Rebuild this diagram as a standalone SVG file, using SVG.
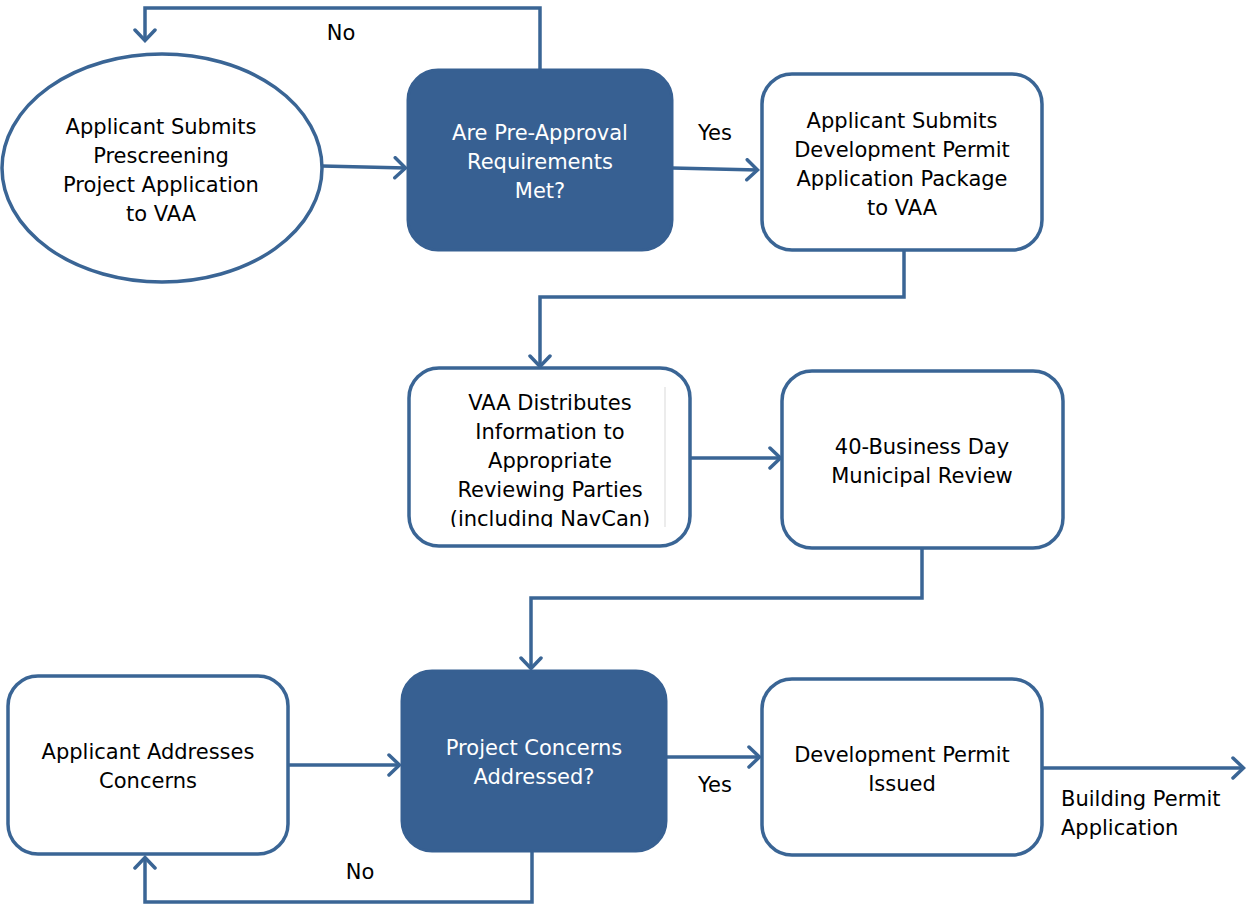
<svg xmlns="http://www.w3.org/2000/svg" width="1246" height="905" viewBox="0 0 1246 905">
  <style>
    .box { fill: #ffffff; stroke: #3a6595; stroke-width: 3.5; }
    .dec { fill: #376092; stroke: #376092; stroke-width: 3; }
    .lbl { font-family: "DejaVu Sans", Verdana, sans-serif; font-size: 21px; fill: #000000; text-anchor: middle; }
    .lbl-w { font-family: "DejaVu Sans", Verdana, sans-serif; font-size: 21px; fill: #ffffff; text-anchor: middle; }
    .start { text-anchor: start; }
    .edge { fill: none; stroke: #3a6595; stroke-width: 3.5; stroke-linejoin: miter; }
  </style>
  <defs>
    <!-- open chevron head used by every connector -->
    <marker id="arrow" viewBox="0 0 16 24" refX="14" refY="12" markerWidth="16" markerHeight="24" markerUnits="userSpaceOnUse" orient="auto">
      <path d="M3,2 L13.5,12 L3,22" fill="none" stroke="#3a6595" stroke-width="3.5" stroke-linecap="round" stroke-linejoin="miter"/>
    </marker>
    <clipPath id="vaa-clip">
      <rect x="434" y="386" width="232" height="141"/>
    </clipPath>
  </defs>
  <rect width="1246" height="905" fill="#ffffff"/>

  <!-- connectors -->
  <g id="connectors">
    <path class="edge" d="M540,70 V8 H145 V41" marker-end="url(#arrow)"/>
    <path class="edge" d="M322,166 L406,168" marker-end="url(#arrow)"/>
    <path class="edge" d="M672,168 L758,170" marker-end="url(#arrow)"/>
    <path class="edge" d="M904,250 V297 H540 V367" marker-end="url(#arrow)"/>
    <path class="edge" d="M690,458 H781" marker-end="url(#arrow)"/>
    <path class="edge" d="M922,548 V598 H531 V669" marker-end="url(#arrow)"/>
    <path class="edge" d="M288,765 H400" marker-end="url(#arrow)"/>
    <path class="edge" d="M532,851 V902 H145 V857" marker-end="url(#arrow)"/>
    <path class="edge" d="M666,757 H760" marker-end="url(#arrow)"/>
    <path class="edge" d="M1042,768 H1244" marker-end="url(#arrow)"/>
    <text class="lbl" x="341" y="40">No</text>
    <text class="lbl" x="715" y="140">Yes</text>
    <text class="lbl" x="360" y="879">No</text>
    <text class="lbl" x="715" y="792">Yes</text>
    <text class="lbl start" x="1061" y="806">Building Permit</text>
    <text class="lbl start" x="1061" y="835">Application</text>
  </g>

  <g id="prescreen">
    <ellipse class="box" cx="162" cy="168" rx="160" ry="114"/>
    <text class="lbl" x="161" y="134">Applicant Submits</text>
    <text class="lbl" x="161" y="163">Prescreening</text>
    <text class="lbl" x="161" y="192">Project Application</text>
    <text class="lbl" x="161" y="221">to VAA</text>
  </g>

  <g id="preapproval">
    <rect class="dec" x="408" y="70" width="264" height="180" rx="30"/>
    <text class="lbl-w" x="540" y="140">Are Pre-Approval</text>
    <text class="lbl-w" x="540" y="169">Requirements</text>
    <text class="lbl-w" x="540" y="198">Met?</text>
  </g>

  <g id="dp-package">
    <rect class="box" x="762" y="74" width="280" height="176" rx="30"/>
    <text class="lbl" x="902" y="128">Applicant Submits</text>
    <text class="lbl" x="902" y="157">Development Permit</text>
    <text class="lbl" x="902" y="186">Application Package</text>
    <text class="lbl" x="902" y="215">to VAA</text>
  </g>

  <g id="distribute">
    <rect class="box" x="409" y="368" width="281" height="178" rx="30"/>
    <line x1="665" y1="387" x2="665" y2="527" stroke="#d9d9d9" stroke-width="1"/>
    <g clip-path="url(#vaa-clip)">
      <text class="lbl" x="550" y="410">VAA Distributes</text>
      <text class="lbl" x="550" y="439">Information to</text>
      <text class="lbl" x="550" y="468">Appropriate</text>
      <text class="lbl" x="550" y="497">Reviewing Parties</text>
      <text class="lbl" x="550" y="526">(including NavCan)</text>
    </g>
  </g>

  <g id="municipal-review">
    <rect class="box" x="782" y="371" width="281" height="177" rx="30"/>
    <text class="lbl" x="922" y="454">40-Business Day</text>
    <text class="lbl" x="922" y="483">Municipal Review</text>
  </g>

  <g id="concerns-addressed">
    <rect class="dec" x="402" y="671" width="264" height="180" rx="30"/>
    <text class="lbl-w" x="534" y="755">Project Concerns</text>
    <text class="lbl-w" x="534" y="784">Addressed?</text>
  </g>

  <g id="addresses-concerns">
    <rect class="box" x="8" y="676" width="280" height="178" rx="30"/>
    <text class="lbl" x="148" y="759">Applicant Addresses</text>
    <text class="lbl" x="148" y="788">Concerns</text>
  </g>

  <g id="permit-issued">
    <rect class="box" x="762" y="679" width="280" height="176" rx="30"/>
    <text class="lbl" x="902" y="762">Development Permit</text>
    <text class="lbl" x="902" y="791">Issued</text>
  </g>
</svg>
